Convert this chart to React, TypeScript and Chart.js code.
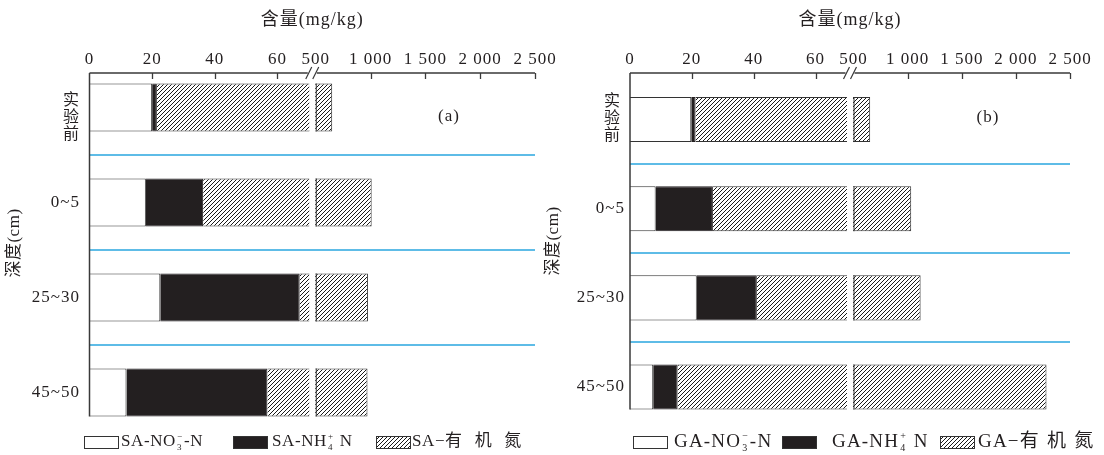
import React, { useEffect, useRef } from 'react';
import { Chart, registerables, LinearScale } from 'chart.js';

// ---------------- data ----------------
const categories = ['实验前', '0~5', '25~30', '45~50'];
const saNitrate = [20, 18, 22.6, 11.8];
const saAmmonium = [1.5, 18.3, 44.5, 45];
const saOrganic = [628.5, 973.7, 908.9, 915.2];
const gaNitrate = [19.8, 8.3, 21.6, 7.5];
const gaAmmonium = [1.4, 18.5, 19.4, 7.9];
const gaOrganic = [632.8, 1006.2, 1079, 2267.6];
const xTickValues = [0, 20, 40, 60, 500, 1000, 1500, 2000, 2500];
const axisBreak = [70, 500];
const xTitle = '含量(mg/kg)';
const yTitle = '深度(cm)';

// ---------------- broken linear scale ----------------
class BrokenLinearScale extends LinearScale {
  static id = 'brokenLinear';
  static defaults = LinearScale.defaults;
  getPixelForValue(value: number) {
    const o: any = this.options;
    const lo = o.breakLow ?? 70;
    const hi = o.breakHigh ?? 500;
    const gap = o.gapPx ?? 7;
    const min = this.min;
    const max = this.max;
    const W = this.right - this.left;
    const seg = (W - gap) / 2;
    if (value <= lo) return this.left + ((value - min) / (lo - min)) * seg;
    if (value >= hi) return this.left + seg + gap + ((value - hi) / (max - hi)) * seg;
    return this.left + seg + ((value - lo) / (hi - lo)) * gap;
  }
  getValueForPixel(pixel: number) {
    const o: any = this.options;
    const lo = o.breakLow ?? 70;
    const hi = o.breakHigh ?? 500;
    const gap = o.gapPx ?? 7;
    const W = this.right - this.left;
    const seg = (W - gap) / 2;
    const d = pixel - this.left;
    if (d <= seg) return this.min + (d / seg) * (lo - this.min);
    if (d >= seg + gap) return hi + ((d - seg - gap) / seg) * (this.max - hi);
    return lo + ((d - seg) / gap) * (hi - lo);
  }
}

Chart.register(...registerables, BrokenLinearScale);

// ---------------- helpers ----------------
const SERIF = '"Liberation Serif", "Noto Sans CJK SC", serif';
const CJK = '"Noto Sans CJK SC", sans-serif';
const INK = '#231f20';
const AXIS = '#3a3a3a';
const BLUE = '#29a6df';

function fmtTick(v: number) {
  if (v >= 1000) {
    const th = Math.floor(v / 1000);
    const rest = String(v % 1000).padStart(3, '0');
    return `${th} ${rest}`;
  }
  return String(v);
}

function makeHatch(): CanvasPattern | string {
  const s = 4;
  const c = document.createElement('canvas');
  c.width = s;
  c.height = s;
  const g = c.getContext('2d');
  if (!g) return '#888';
  g.fillStyle = '#fff';
  g.fillRect(0, 0, s, s);
  g.strokeStyle = '#1a1a1a';
  g.lineWidth = 1;
  g.beginPath();
  g.moveTo(-1, 1); g.lineTo(1, -1);
  g.moveTo(0, s); g.lineTo(s, 0);
  g.moveTo(s - 1, s + 1); g.lineTo(s + 1, s - 1);
  g.stroke();
  const p = g.createPattern(c, 'repeat');
  return p || '#888';
}

type Seg = { t: string; sub?: string; sup?: string; cjk?: boolean };

function drawRich(ctx: CanvasRenderingContext2D, segs: Seg[], x: number, y: number, size: number, spacing: number, cjkExtra: number) {
  let cx = x;
  for (const s of segs) {
    ctx.font = `${size}px ${SERIF}`;
    (ctx as any).letterSpacing = `${s.cjk ? spacing + cjkExtra : spacing}px`;
    ctx.textAlign = 'left';
    ctx.textBaseline = 'middle';
    ctx.fillText(s.t, cx, y);
    cx += ctx.measureText(s.t).width;
    if (s.sub || s.sup) {
      (ctx as any).letterSpacing = '0px';
      ctx.font = `${Math.round(size * 0.55)}px ${SERIF}`;
      let w = 0;
      if (s.sub) { ctx.fillText(s.sub, cx + 1, y + size * 0.32); w = Math.max(w, ctx.measureText(s.sub).width); }
      if (s.sup) { ctx.fillText(s.sup, cx + 1, y - size * 0.3); w = Math.max(w, ctx.measureText(s.sup).width); }
      cx += w + 3;
    }
  }
  (ctx as any).letterSpacing = '0px';
}

type PanelCfg = {
  left: number;
  width: number;
  padding: { left: number; right: number; top: number; bottom: number };
  axisY: number;
  tickLabelY: number;
  titleY: number;
  yLabelGap: number;
  stackX: number;
  stackY: number;
  yTitleX: number;
  yTitleY: number;
  letter: string;
  letterX: number;
  letterY: number;
  legendY: number;
  legendSize: number;
  legendSpacing: number;
  legendCjkExtra: number;
  legendBoxX: number[];
  legendTextX: number[];
  prefix: string;
};

const panelA: PanelCfg = {
  left: 0,
  width: 560,
  padding: { left: 89.5, right: 25, top: 60, bottom: 15 },
  axisY: 73,
  tickLabelY: 60,
  titleY: 20,
  yLabelGap: 9.5,
  stackX: 71,
  stackY: 116,
  yTitleX: 15,
  yTitleY: 243,
  letter: '(a)',
  letterX: 449,
  letterY: 117,
  legendY: 442,
  legendSize: 17,
  legendSpacing: 0.6,
  legendCjkExtra: 12,
  legendBoxX: [84, 233, 376],
  legendTextX: [121, 272, 412],
  prefix: 'SA',
};

const panelB: PanelCfg = {
  left: 540,
  width: 564,
  padding: { left: 90, right: 34, top: 75, bottom: 23.4 },
  axisY: 73,
  tickLabelY: 60,
  titleY: 20,
  yLabelGap: 5,
  stackX: 612,
  stackY: 117.5,
  yTitleX: 14,
  yTitleY: 241,
  letter: '(b)',
  letterX: 448,
  letterY: 118,
  legendY: 442,
  legendSize: 19,
  legendSpacing: 1.2,
  legendCjkExtra: 7,
  legendBoxX: [93, 242, 400],
  legendTextX: [134, 292, 438],
  prefix: 'GA',
};

function Panel({ cfg, nitrate, ammonium, organic }: { cfg: PanelCfg; nitrate: number[]; ammonium: number[]; organic: number[] }) {
  const ref = useRef<HTMLCanvasElement>(null);

  useEffect(() => {
    const canvas = ref.current;
    if (!canvas) return;
    const hatch = makeHatch();

    const decor = {
      id: 'decor' + cfg.prefix,
      afterDatasetsDraw(chart: any) {
        const ctx: CanvasRenderingContext2D = chart.ctx;
        const xs = chart.scales.x;
        const x1 = xs.getPixelForValue(axisBreak[0]);
        const x2 = xs.getPixelForValue(axisBreak[1]);
        const meta = chart.getDatasetMeta(2);
        ctx.save();
        meta.data.forEach((bar: any) => {
          const p = bar.getProps(['x', 'y', 'height'], true);
          const top = p.y - p.height / 2;
          ctx.fillStyle = '#fff';
          ctx.fillRect(x1 + 0.5, top - 1, x2 - x1 - 1, p.height + 2);
          if (p.x > x2) {
            ctx.strokeStyle = '#333';
            ctx.lineWidth = 1;
            ctx.beginPath();
            ctx.moveTo(x2 + 0.5, top);
            ctx.lineTo(x2 + 0.5, top + p.height);
            ctx.stroke();
          }
        });
        ctx.restore();
      },
      afterDraw(chart: any) {
        const ctx: CanvasRenderingContext2D = chart.ctx;
        const xs = chart.scales.x;
        const ys = chart.scales.y;
        const area = chart.chartArea;
        const x1 = xs.getPixelForValue(axisBreak[0]);
        const x2 = xs.getPixelForValue(axisBreak[1]);
        const meta = chart.getDatasetMeta(2);
        let lastBottom = area.bottom;
        meta.data.forEach((bar: any) => {
          const p = bar.getProps(['y', 'height'], true);
          lastBottom = p.y + p.height / 2;
        });

        ctx.save();

        // category separators
        ctx.strokeStyle = BLUE;
        ctx.lineWidth = 1.4;
        for (let i = 1; i < categories.length; i++) {
          const yb = Math.round((ys.getPixelForValue(i - 1) + ys.getPixelForValue(i)) / 2);
          ctx.beginPath();
          ctx.moveTo(area.left, yb);
          ctx.lineTo(area.right, yb);
          ctx.stroke();
        }

        // axes
        const ax = area.left;
        const ay = cfg.axisY;
        ctx.strokeStyle = AXIS;
        ctx.lineWidth = 1.5;
        ctx.beginPath();
        ctx.moveTo(ax, ay);
        ctx.lineTo(x1 - 1, ay);
        ctx.moveTo(x2 + 1, ay);
        ctx.lineTo(area.right, ay);
        ctx.moveTo(ax, ay);
        ctx.lineTo(ax, lastBottom);
        ctx.stroke();
        // break marks
        ctx.lineWidth = 1.2;
        ctx.beginPath();
        for (const bx of [x1, x2]) {
          ctx.moveTo(bx - 3, ay + 6);
          ctx.lineTo(bx + 3, ay - 6);
        }
        ctx.stroke();
        // ticks
        ctx.lineWidth = 1.3;
        ctx.beginPath();
        for (const v of xTickValues) {
          if (v === 0 || v === axisBreak[1]) continue;
          const tx = Math.round(xs.getPixelForValue(v)) + 0.5;
          ctx.moveTo(tx, ay);
          ctx.lineTo(tx, ay + 6);
        }
        ctx.stroke();

        // tick labels
        ctx.fillStyle = INK;
        ctx.font = `17px ${SERIF}`;
        (ctx as any).letterSpacing = '1px';
        ctx.textAlign = 'center';
        ctx.textBaseline = 'middle';
        for (const v of xTickValues) {
          ctx.fillText(fmtTick(v), xs.getPixelForValue(v), cfg.tickLabelY);
        }

        // y labels (the vertical CJK label is an HTML overlay)
        for (let i = 0; i < categories.length; i++) {
          const c = categories[i];
          if (/^[\u4e00-\u9fff]+$/.test(c)) continue;
          const yp = ys.getPixelForValue(i);
          (ctx as any).letterSpacing = '1px';
          ctx.font = `17px ${SERIF}`;
          ctx.textAlign = 'right';
          ctx.textBaseline = 'middle';
          ctx.fillText(c, ax - cfg.yLabelGap, yp);
        }

        // x title
        (ctx as any).letterSpacing = '1px';
        ctx.font = `18px ${SERIF}`;
        ctx.textAlign = 'center';
        ctx.fillText(xTitle, (x1 + x2) / 2, cfg.titleY);

        // panel letter
        ctx.font = `17px ${SERIF}`;
        ctx.fillText(cfg.letter, cfg.letterX, cfg.letterY);

        // legend
        (ctx as any).letterSpacing = '0px';
        const ly = cfg.legendY;
        const fills: (string | CanvasPattern)[] = ['#fff', INK, hatch];
        const labels: Seg[][] = [
          [{ t: `${cfg.prefix}-NO`, sub: '3', sup: '−' }, { t: '-N' }],
          [{ t: `${cfg.prefix}-NH`, sub: '4', sup: '+' }, { t: ' N' }],
          [{ t: `${cfg.prefix}−` }, { t: '有机氮', cjk: true }],
        ];
        for (let k = 0; k < 3; k++) {
          const bx = cfg.legendBoxX[k];
          ctx.fillStyle = fills[k] as any;
          ctx.fillRect(bx, ly - 6, 34, 12);
          ctx.strokeStyle = '#333';
          ctx.lineWidth = 1;
          ctx.strokeRect(bx + 0.5, ly - 6 + 0.5, 34, 12);
          ctx.fillStyle = INK;
          drawRich(ctx, labels[k], cfg.legendTextX[k], ly, cfg.legendSize, cfg.legendSpacing, cfg.legendCjkExtra);
        }

        // y title (rotated, last)
        ctx.translate(cfg.yTitleX, cfg.yTitleY);
        ctx.rotate(-Math.PI / 2);
        (ctx as any).letterSpacing = '0.5px';
        ctx.font = `17px ${SERIF}`;
        ctx.textAlign = 'center';
        ctx.textBaseline = 'middle';
        ctx.fillStyle = INK;
        ctx.fillText(yTitle, 0, 0);
        ctx.restore();
      },
    };

    const chart = new Chart(canvas, {
      type: 'bar',
      data: {
        labels: categories,
        datasets: [
          { label: `${cfg.prefix}-NO3--N`, data: nitrate, backgroundColor: '#ffffff', borderColor: '#333', borderWidth: 1 },
          { label: `${cfg.prefix}-NH4+ N`, data: ammonium, backgroundColor: INK, borderColor: INK, borderWidth: 1 },
          { label: `${cfg.prefix}-有机氮`, data: organic, backgroundColor: hatch as any, borderColor: '#333', borderWidth: 1 },
        ],
      },
      options: {
        indexAxis: 'y',
        responsive: false,
        animation: false,
        devicePixelRatio: 1,
        layout: { padding: cfg.padding },
        datasets: { bar: { barPercentage: 0.505, categoryPercentage: 1 } } as any,
        scales: {
          x: { type: 'brokenLinear', min: 0, max: 2500, stacked: true, display: false, breakLow: axisBreak[0], breakHigh: axisBreak[1], gapPx: 7 } as any,
          y: { type: 'category', stacked: true, display: false, offset: true },
        },
        plugins: { legend: { display: false }, tooltip: { enabled: false }, title: { display: false } },
      },
      plugins: [decor],
    } as any);

    return () => chart.destroy();
  }, []);

  const stackLabel = categories.find((c) => /^[\u4e00-\u9fff]+$/.test(c)) || '';

  return (
    <>
      <canvas
        ref={ref}
        width={cfg.width}
        height={455}
        style={{ position: 'absolute', left: cfg.left, top: 0, width: cfg.width, height: 455 }}
      />
      <div
        style={{
          position: 'absolute',
          left: cfg.stackX - 10,
          top: cfg.stackY - 26,
          width: 20,
          height: 52,
          writingMode: 'vertical-rl',
          textOrientation: 'upright',
          fontFamily: CJK,
          fontSize: 16,
          lineHeight: '20px',
          letterSpacing: '1px',
          textAlign: 'center',
          color: INK,
        }}
      >
        {stackLabel}
      </div>
    </>
  );
}

export default function App() {
  return (
    <div style={{ position: 'absolute', left: 0, top: 0, width: 1104, height: 455, background: '#fff', overflow: 'hidden' }}>
      <Panel cfg={panelA} nitrate={saNitrate} ammonium={saAmmonium} organic={saOrganic} />
      <Panel cfg={panelB} nitrate={gaNitrate} ammonium={gaAmmonium} organic={gaOrganic} />
    </div>
  );
}
